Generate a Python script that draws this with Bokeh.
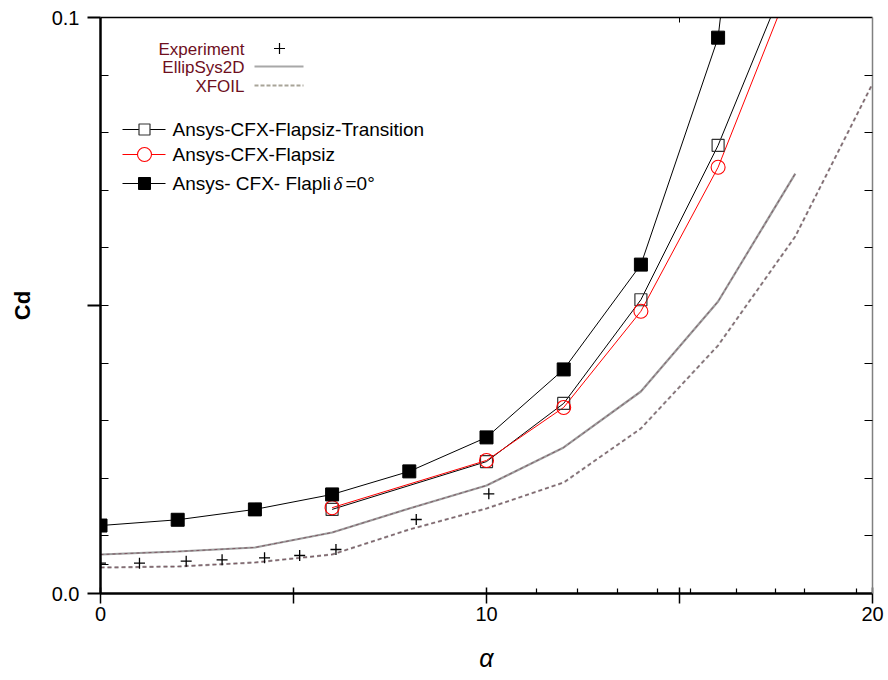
from bokeh.plotting import figure
from bokeh.models import Range1d, LinearAxis, FixedTicker
from bokeh.embed import file_html
from bokeh.resources import INLINE
from bokeh.core.properties import value

# ---------------- data ----------------
alpha_flapli = [0, 2, 4, 6, 8, 10, 12, 14, 16]
cd_flapli = [0.0118, 0.0128, 0.0146, 0.0172, 0.0212, 0.0271, 0.0389, 0.0571, 0.0965]
line_alpha_flapli = [0, 2, 4, 6, 8, 10, 12, 14, 16, 16.06]
line_cd_flapli = [0.0118, 0.0128, 0.0146, 0.0172, 0.0212, 0.0271, 0.0389, 0.0571, 0.0965, 0.100]

alpha_trans = [6, 10, 12, 14, 16]
cd_trans = [0.0146, 0.0229, 0.0330, 0.0510, 0.0778]
line_alpha_trans = [6, 10, 12, 14, 16, 17.36]
line_cd_trans = [0.0146, 0.0229, 0.0330, 0.0510, 0.0778, 0.100]

alpha_flapsiz = [6, 10, 12, 14, 16]
cd_flapsiz = [0.0149, 0.0231, 0.0323, 0.0490, 0.0740]
line_alpha_flapsiz = [6, 10, 12, 14, 16, 17.54]
line_cd_flapsiz = [0.0149, 0.0231, 0.0323, 0.0490, 0.0740, 0.100]

alpha_exp = [0, 1.01, 2.22, 3.15, 4.25, 5.16, 6.1, 8.18, 10.06]
cd_exp = [0.00526, 0.00526, 0.00561, 0.00585, 0.0062, 0.0066, 0.00764, 0.01285, 0.01731]

alpha_ellip = [0, 2, 4, 6, 8, 10, 12, 14, 16, 18]
cd_ellip = [0.00677, 0.00729, 0.00799, 0.01059, 0.01476, 0.01875, 0.02535, 0.03507, 0.0507, 0.0729]

alpha_xfoil = [0, 2, 4, 6, 8, 10, 12, 14, 16, 18, 20]
cd_xfoil = [0.00451, 0.00469, 0.00538, 0.00677, 0.01111, 0.01476, 0.01927, 0.02865, 0.04306, 0.0620, 0.0885]

x_ticks = [0, 5, 10, 15, 20]
x_minor = [11.3, 12.36, 13.39, 14.43, 15.28, 16.48, 17.49, 18.24, 19.59]
y_ticks = [0.0, 0.05, 0.1]
y_minor = [0.005, 0.01, 0.02, 0.03, 0.04, 0.05, 0.06, 0.07, 0.08, 0.09]
y_labels = {0.0: "0.0", 0.05: "", 0.1: "0.1"}
x_labels = {0: "0", 5: "", 10: "10", 15: "", 20: "20"}
right_ticks = [0.01, 0.02, 0.03, 0.04, 0.05, 0.06, 0.07, 0.08, 0.09]
top_ticks = [15]

# ---------------- layout ----------------
X0, X1, Y0, Y1 = 0, 20, 0.0, 0.1
FL, FT, FW, FH = 100, 17, 772, 576

def dx(px):
    return X0 + (px - FL) / FW * (X1 - X0)

def dy(py):
    return Y0 + (FT + FH - py) / FH * (Y1 - Y0)

p = figure(frame_width=FW, frame_height=FH, x_range=Range1d(X0, X1), y_range=Range1d(Y0, Y1),
           output_backend="svg", toolbar_location=None,
           min_border_left=FL, min_border_top=FT, min_border_right=16, min_border_bottom=87)
p.outline_line_color = None
p.grid.visible = False
p.background_fill_color = "white"
p.border_fill_color = "white"

FONT = "Liberation Sans"

# left axis
ya = p.yaxis[0]
ya.ticker = FixedTicker(ticks=y_ticks, minor_ticks=y_minor)
ya.major_label_overrides = y_labels
ya.axis_line_width = 2.5
ya.axis_line_color = "black"
ya.major_tick_out = 13
ya.major_tick_in = 0
ya.major_tick_line_width = 2
ya.major_tick_line_color = "black"
ya.minor_tick_in = 8
ya.minor_tick_out = 0
ya.minor_tick_line_width = 1.2
ya.minor_tick_line_color = "black"
ya.major_label_text_font = FONT
ya.major_label_text_font_size = "20px"
ya.major_label_text_color = "black"
ya.major_label_standoff = 8
ya.axis_label = "Cd"
ya.axis_label_text_font = FONT
ya.axis_label_text_font_style = "bold"
ya.axis_label_text_font_size = "22px"
ya.axis_label_text_color = "black"
ya.axis_label_standoff = 14

# bottom axis
xa = p.xaxis[0]
xa.ticker = FixedTicker(ticks=x_ticks, minor_ticks=x_minor)
xa.major_label_overrides = x_labels
xa.axis_line_width = 2.5
xa.axis_line_color = "black"
xa.major_tick_out = 10
xa.major_tick_in = 6
xa.major_tick_line_width = 1.5
xa.major_tick_line_color = "black"
xa.minor_tick_in = 5
xa.minor_tick_out = 0
xa.minor_tick_line_width = 1.2
xa.minor_tick_line_color = "black"
xa.major_label_text_font = FONT
xa.major_label_text_font_size = "20px"
xa.major_label_text_color = "black"
xa.major_label_standoff = 3
xa.axis_label = "α"
xa.axis_label_text_font = FONT
xa.axis_label_text_font_style = "italic"
xa.axis_label_text_font_size = "25px"
xa.axis_label_text_color = "black"
xa.axis_label_standoff = 20

# top axis (ticks only)
top = LinearAxis(ticker=FixedTicker(ticks=top_ticks), major_tick_in=5, major_tick_out=0,
                 axis_line_width=1.5, axis_line_color="black", major_tick_line_color="black",
                 major_label_overrides={t: "" for t in top_ticks}, minor_tick_line_color=None)
p.add_layout(top, "above")

# right axis (ticks only)
right = LinearAxis(ticker=FixedTicker(ticks=right_ticks),
                   major_tick_in=8, major_tick_out=0, axis_line_color="#808080", axis_line_width=1.5,
                   major_tick_line_color="black", major_tick_line_width=1.2,
                   major_label_overrides={t: "" for t in right_ticks}, minor_tick_line_color=None)
p.add_layout(right, "right")

# ---------------- data glyphs ----------------
GRAY = "#9c9c9c"
DARK = "#6e3446"

# XFOIL dashed
p.line(alpha_xfoil, cd_xfoil, line_color=GRAY, line_width=2.2, line_dash="4 3")
p.line(alpha_xfoil, cd_xfoil, line_color=DARK, line_width=0.8, line_dash="4 3", line_alpha=0.8)
# EllipSys2D solid
p.line(alpha_ellip, cd_ellip, line_color=GRAY, line_width=2.2)
p.line(alpha_ellip, cd_ellip, line_color=DARK, line_width=0.8, line_dash="3 3", line_alpha=0.8)

# CFX lines
p.line(line_alpha_flapli, line_cd_flapli, line_color="black", line_width=1)
p.line(line_alpha_trans, line_cd_trans, line_color="black", line_width=1)
p.line(line_alpha_flapsiz, line_cd_flapsiz, line_color="#ff0000", line_width=1)

# markers
p.scatter(alpha_exp, cd_exp, marker="cross", size=11, line_color="black", line_width=1.3)
p.scatter(alpha_trans, cd_trans, marker="square", size=12, fill_color=None, line_color="#333333", line_width=1.2)
p.scatter(alpha_flapsiz, cd_flapsiz, marker="circle", size=14, fill_color=None, line_color="#ff0000", line_width=1.1)
p.scatter(alpha_flapli, cd_flapli, marker="square", size=13, fill_color="black", line_color="black")

# ---------------- legends (drawn by hand) ----------------
LEG_RED = "#6e0f1e"
p.text([dx(244)], [dy(49)], text=["Experiment"], text_align="right", text_baseline="middle",
       text_font=value(FONT), text_font_size="17px", text_color=LEG_RED)
p.text([dx(244)], [dy(67)], text=["EllipSys2D"], text_align="right", text_baseline="middle",
       text_font=value(FONT), text_font_size="17px", text_color=LEG_RED)
p.text([dx(244)], [dy(86)], text=["XFOIL"], text_align="right", text_baseline="middle",
       text_font=value(FONT), text_font_size="17px", text_color=LEG_RED)
p.scatter([dx(279)], [dy(48)], marker="cross", size=11, line_color="black", line_width=1.2)
p.line([dx(254), dx(303)], [dy(66), dy(66)], line_color="#a8a8a8", line_width=2.2)
p.line([dx(254), dx(303)], [dy(85), dy(85)], line_color="#a8a498", line_width=2.2, line_dash="4 2")

rows = [129, 154, 183]
p.line([dx(122), dx(165)], [dy(rows[0])] * 2, line_color="black", line_width=1)
p.scatter([dx(144)], [dy(rows[0])], marker="square", size=11, fill_color="white", line_color="#333333", line_width=1.2)
p.line([dx(122), dx(165)], [dy(rows[1])] * 2, line_color="#ff0000", line_width=1)
p.scatter([dx(144)], [dy(rows[1])], marker="circle", size=14, fill_color="white", line_color="#ff0000", line_width=1.1)
p.line([dx(122), dx(165)], [dy(rows[2])] * 2, line_color="black", line_width=1)
p.scatter([dx(144)], [dy(rows[2])], marker="square", size=12, fill_color="black", line_color="black")

p.text([dx(172)], [dy(rows[0])], text=["Ansys-CFX-Flapsiz-Transition"], text_baseline="middle",
       text_font=value(FONT), text_font_size="19px", text_color="black")
p.text([dx(172)], [dy(rows[1])], text=["Ansys-CFX-Flapsiz"], text_baseline="middle",
       text_font=value(FONT), text_font_size="19px", text_color="black")
p.text([dx(172)], [dy(rows[2])], text=["Ansys- CFX- Flapli"], text_baseline="middle",
       text_font=value(FONT), text_font_size="19px", text_color="black")
p.text([dx(333)], [dy(rows[2])], text=["δ"], text_baseline="middle",
       text_font=value("Liberation Serif"), text_font_style="italic", text_font_size="19px", text_color="black")
p.text([dx(345)], [dy(rows[2])], text=["=0°"], text_baseline="middle",
       text_font=value(FONT), text_font_size="19px", text_color="black")

open("out.html", "w").write(file_html(p, INLINE))
